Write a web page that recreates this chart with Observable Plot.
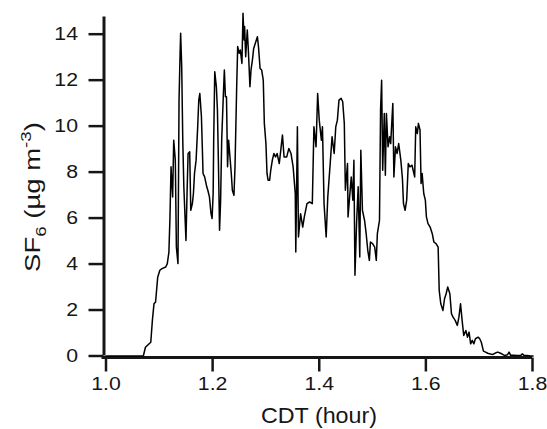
<!DOCTYPE html>
<html><head><meta charset="utf-8">
<script src="https://cdn.jsdelivr.net/npm/d3@7"></script>
<script src="https://cdn.jsdelivr.net/npm/@observablehq/plot@0.6"></script>
<style>body{margin:0;background:#fff} #chart svg{display:block}</style>
</head><body><div id="chart"></div>
<script>
// CDT time (hour)
const hours = [
1.000,1.070,1.074,1.084,1.087,1.090,1.093,1.097,1.101,1.105,1.112,1.115,1.118,1.120,1.122,1.125,1.127,1.130,1.132,1.135,
1.137,1.139,1.140,1.142,1.144,1.146,1.148,1.150,1.152,1.154,1.157,1.159,1.162,1.164,1.166,1.169,1.172,1.174,1.176,1.179,
1.181,1.182,1.185,1.189,1.191,1.194,1.197,1.199,1.201,1.202,1.204,1.207,1.209,1.211,1.213,1.215,1.217,1.220,1.222,1.224,
1.226,1.228,1.230,1.232,1.235,1.237,1.240,1.242,1.245,1.247,1.250,1.252,1.255,1.257,1.259,1.260,1.262,1.265,1.267,1.270,
1.272,1.275,1.277,1.281,1.284,1.286,1.289,1.292,1.295,1.297,1.300,1.302,1.304,1.307,1.309,1.312,1.315,1.318,1.321,1.325,
1.331,1.334,1.339,1.343,1.347,1.351,1.355,1.356,1.359,1.361,1.365,1.369,1.372,1.377,1.382,1.387,1.390,1.394,1.397,1.400,
1.404,1.406,1.409,1.413,1.416,1.421,1.424,1.428,1.431,1.434,1.437,1.441,1.444,1.447,1.449,1.453,1.454,1.457,1.460,1.463,
1.465,1.467,1.470,1.473,1.476,1.478,1.481,1.485,1.488,1.491,1.494,1.496,1.500,1.504,1.507,1.509,1.513,1.515,1.517,1.519,
1.522,1.524,1.526,1.529,1.532,1.534,1.538,1.540,1.543,1.546,1.549,1.553,1.556,1.558,1.561,1.564,1.567,1.570,1.574,1.579,
1.581,1.584,1.586,1.589,1.591,1.593,1.596,1.599,1.601,1.604,1.608,1.612,1.615,1.619,1.623,1.625,1.628,1.632,1.635,1.638,
1.641,1.645,1.648,1.651,1.655,1.659,1.662,1.665,1.668,1.671,1.675,1.678,1.681,1.684,1.687,1.690,1.693,1.698,1.701,1.704,
1.708,1.712,1.716,1.721,1.726,1.731,1.735,1.740,1.744,1.748,1.753,1.756,1.759,1.765,1.771,1.778,1.781,1.784,1.790,1.796,
1.801
];
// SF6 concentration (µg m^-3)
const sf6 = [
0.00,0.00,0.38,0.60,1.55,2.27,2.35,3.43,3.73,3.80,3.87,4.02,4.52,6.05,8.23,6.92,9.39,8.52,4.74,4.02,
11.13,13.17,14.04,12.59,9.39,7.36,6.19,5.03,7.07,8.81,8.88,6.34,6.63,7.07,7.94,8.52,9.97,11.13,11.42,10.41,
8.81,7.94,7.79,7.36,7.21,6.92,6.19,5.98,7.07,9.39,12.37,11.71,10.70,8.23,5.47,6.78,9.39,11.28,12.44,11.28,
11.28,8.23,9.39,8.81,7.94,7.21,6.99,8.23,11.57,13.46,13.17,13.31,12.73,14.91,13.75,14.33,13.02,14.18,13.31,11.71,
12.44,12.95,13.38,13.67,13.89,13.46,12.51,12.44,12.00,10.12,9.24,7.94,7.65,7.65,8.08,8.52,8.81,8.66,8.81,8.37,
9.61,8.66,8.66,9.03,8.81,8.23,7.07,4.52,9.97,5.18,6.19,5.61,6.05,6.63,6.70,6.63,9.97,9.10,11.42,10.26,
9.39,9.97,6.63,5.18,6.92,8.52,9.54,8.81,9.97,10.26,11.13,11.21,11.06,10.12,7.21,8.37,6.05,6.92,7.79,6.78,
8.52,3.51,5.76,7.36,4.31,8.95,6.34,5.90,5.32,4.60,4.16,4.96,4.89,4.74,4.16,5.32,5.90,10.70,12.00,8.08,
10.55,7.86,10.55,9.10,9.54,9.24,10.99,7.79,9.10,8.81,9.24,8.52,7.72,6.63,6.34,6.78,8.37,8.23,8.30,7.79,
9.97,9.68,10.12,9.83,7.50,7.94,7.07,6.78,6.05,5.76,5.61,5.32,4.96,4.89,4.74,2.85,2.27,1.98,2.49,2.71,
3.00,2.71,1.84,1.69,1.55,1.33,1.69,2.27,1.55,0.89,1.11,0.82,1.04,0.53,0.68,0.53,0.75,0.82,0.75,0.60,
0.21,0.17,0.12,0.09,0.07,0.14,0.17,0.12,0.07,0.02,0.05,0.17,0.03,0.03,0.02,0.03,0.09,0.03,0.02,0.00,
0.00
];
const xTicks = [1.0, 1.2, 1.4, 1.6, 1.8];
const yTicks = [0, 2, 4, 6, 8, 10, 12, 14];
const xTitle = "CDT (hour)";

const data = hours.map((h, i) => ({h, v: sf6[i]}));
const font = "'Liberation Sans', Arial, sans-serif";
const ink = "#161616";

const plot = Plot.plot({
  width: 547, height: 429,
  marginLeft: 105.5, marginRight: 15, marginTop: 13, marginBottom: 73.5,
  style: {fontFamily: font, fontSize: "19px", color: ink, background: "#fff", overflow: "visible"},
  x: {domain: [1.0, 1.8]},
  y: {domain: [0, 14.9]},
  marks: [
    Plot.axisX({ticks: xTicks, tickFormat: d3.format(".1f"), tickSize: 14, tickPadding: 4.5, strokeWidth: 2.5, dy: 2, fontSize: 19, label: null}),
    Plot.axisY({ticks: yTicks, tickSize: 15, tickPadding: 11, strokeWidth: 2.5, dx: -2, fontSize: 19, label: null}),
    Plot.ruleX([1.0], {y1: 0, y2: 14.9, dx: -2, insetBottom: -3.5, strokeWidth: 3}),
    Plot.ruleY([0], {x1: 1.0, x2: 1.8, dy: 1.5, insetLeft: -4, strokeWidth: 3}),
    Plot.line(data, {x: "h", y: "v", stroke: "#000", strokeWidth: 1.5})
  ]
});

const svg = d3.select(plot);
// widen tick labels slightly, as in the reference lettering
svg.selectAll("text").each(function() {
  const t = this.getAttribute("transform");
  if (t && t.includes("translate")) this.setAttribute("transform", t + " scale(1.12,1)");
});

svg.append("text")
  .attr("transform", "translate(319,423) scale(1.06,1)")
  .attr("text-anchor", "middle")
  .attr("font-family", font).attr("font-size", 22).attr("fill", ink)
  .text(xTitle);

const yl = svg.append("text")
  .attr("transform", "translate(40,197) rotate(-90) scale(1.25,1)")
  .attr("text-anchor", "middle")
  .attr("font-family", font).attr("font-size", 22).attr("fill", ink);
yl.append("tspan").text("SF");
yl.append("tspan").attr("font-size", 15).attr("dy", 6).text("6");
yl.append("tspan").attr("dy", -6).text(" (µg m");
yl.append("tspan").attr("font-size", 15).attr("dy", -9).text("-3");
yl.append("tspan").attr("dy", 9).text(")");

document.getElementById("chart").appendChild(plot);
</script>
</body></html>
